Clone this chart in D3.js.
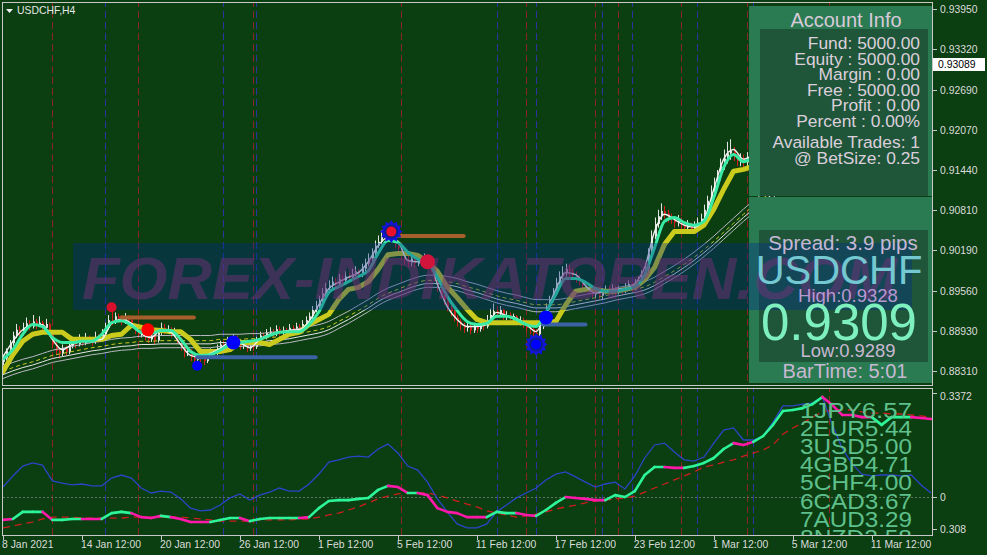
<!DOCTYPE html>
<html>
<head>
<meta charset="utf-8">
<script src="https://cdn.jsdelivr.net/npm/d3@7/dist/d3.min.js"></script>
<style>
html,body{margin:0;padding:0;background:#0b3e10;overflow:hidden;}
svg{display:block;}
text{font-family:"Liberation Sans",Arial,sans-serif;}
</style>
</head>
<body>
<svg id="chart" width="987" height="555"></svg>
<script>
// ---------------- DATA ----------------
const symbolTitle = "USDCHF,H4";
const timeTickBars = [0,24,48,72,96,120,144,168,192,216,240,264];
const timeTickLabels = ["8 Jan 2021","14 Jan 12:00","20 Jan 12:00","26 Jan 12:00","1 Feb 12:00","5 Feb 12:00","11 Feb 12:00","17 Feb 12:00","23 Feb 12:00","1 Mar 12:00","5 Mar 12:00","11 Mar 12:00"];
const priceTicks = [0.93950,0.93320,0.92690,0.92070,0.91440,0.90810,0.90190,0.89560,0.88930,0.88310];
const lastPrice = 0.93089;

// H4 candles (open of each bar = previous close)
const candleFirstOpen = 0.8845;
const candleClose = [
0.8850,0.8862,0.8874,0.8886,0.8895,0.8890,0.8898,0.8905,0.8900,0.8908,
0.8902,0.8906,0.8898,0.8904,0.8888,0.8872,0.8862,0.8858,0.8866,0.8860,
0.8870,0.8876,0.8872,0.8880,0.8874,0.8882,0.8878,0.8876,0.8884,0.8880,
0.8888,0.8898,0.8910,0.8908,0.8916,0.8912,0.8908,0.8914,0.8910,0.8902,
0.8894,0.8888,0.8890,0.8884,0.8880,0.8886,0.8878,0.8890,0.8898,0.8894,
0.8896,0.8888,0.8892,0.8880,0.8868,0.8860,0.8862,0.8852,0.8848,0.8854,
0.8850,0.8846,0.8856,0.8860,0.8858,0.8866,0.8872,0.8870,0.8878,0.8876,
0.8882,0.8874,0.8870,0.8872,0.8866,0.8870,0.8868,0.8878,0.8886,0.8884,
0.8890,0.8892,0.8888,0.8896,0.8890,0.8894,0.8892,0.8898,0.8894,0.8900,
0.8896,0.8904,0.8910,0.8916,0.8926,0.8932,0.8940,0.8952,0.8960,0.8964,
0.8970,0.8966,0.8974,0.8972,0.8978,0.8976,0.8982,0.8986,0.8980,0.8990,
0.8998,0.9006,0.9014,0.9026,0.9032,0.9040,0.9036,0.9044,0.9038,0.9028,
0.9022,0.9010,0.9004,0.9000,0.9006,0.8998,0.9004,0.9000,0.9008,0.9002,
0.8990,0.8976,0.8960,0.8950,0.8940,0.8930,0.8924,0.8914,0.8908,0.8902,
0.8898,0.8900,0.8894,0.8900,0.8896,0.8904,0.8900,0.8910,0.8918,0.8924,
0.8920,0.8926,0.8916,0.8918,0.8912,0.8916,0.8908,0.8910,0.8904,0.8898,
0.8896,0.8890,0.8888,0.8900,0.8916,0.8930,0.8942,0.8952,0.8968,0.8978,
0.8984,0.8990,0.8986,0.8980,0.8976,0.8970,0.8964,0.8960,0.8956,0.8950,
0.8952,0.8948,0.8954,0.8958,0.8956,0.8960,0.8954,0.8958,0.8956,0.8962,
0.8966,0.8960,0.8968,0.8972,0.8980,0.8990,0.9014,0.9040,0.9060,0.9072,
0.9080,0.9076,0.9070,0.9068,0.9062,0.9066,0.9058,0.9054,0.9058,0.9052,
0.9056,0.9062,0.9068,0.9082,0.9096,0.9110,0.9120,0.9134,0.9150,0.9162,
0.9170,0.9174,0.9166,0.9158,0.9162,0.9156,0.9164];
const candleHigh = [
0.8856,0.8866,0.8879,0.8892,0.8904,0.8901,0.8906,0.8914,0.8910,0.8918,
0.8912,0.8916,0.8909,0.8912,0.8906,0.8890,0.8876,0.8866,0.8872,0.8870,
0.8876,0.8884,0.8880,0.8888,0.8884,0.8890,0.8886,0.8884,0.8892,0.8888,
0.8896,0.8906,0.8918,0.8925,0.8922,0.8920,0.8918,0.8921,0.8918,0.8913,
0.8905,0.8898,0.8897,0.8894,0.8890,0.8892,0.8890,0.8896,0.8906,0.8904,
0.8902,0.8899,0.8898,0.8894,0.8883,0.8872,0.8868,0.8865,0.8856,0.8858,
0.8860,0.8855,0.8862,0.8866,0.8865,0.8872,0.8878,0.8878,0.8884,0.8883,
0.8888,0.8886,0.8878,0.8878,0.8876,0.8876,0.8874,0.8884,0.8892,0.8890,
0.8896,0.8899,0.8896,0.8902,0.8900,0.8900,0.8898,0.8904,0.8902,0.8906,
0.8904,0.8910,0.8916,0.8922,0.8932,0.8940,0.8948,0.8960,0.8968,0.8972,
0.8978,0.8976,0.8982,0.8980,0.8986,0.8984,0.8990,0.8994,0.8990,0.8998,
0.9006,0.9014,0.9022,0.9034,0.9042,0.9050,0.9048,0.9052,0.9048,0.9042,
0.9032,0.9026,0.9014,0.9010,0.9012,0.9010,0.9010,0.9010,0.9014,0.9012,
0.9006,0.8994,0.8980,0.8964,0.8954,0.8944,0.8936,0.8928,0.8918,0.8912,
0.8906,0.8906,0.8904,0.8906,0.8904,0.8910,0.8908,0.8918,0.8928,0.8936,
0.8932,0.8932,0.8928,0.8924,0.8922,0.8920,0.8918,0.8916,0.8914,0.8908,
0.8902,0.8900,0.8896,0.8904,0.8920,0.8936,0.8948,0.8960,0.8976,0.8986,
0.8994,0.8998,0.8996,0.8990,0.8986,0.8980,0.8974,0.8968,0.8966,0.8960,
0.8958,0.8958,0.8960,0.8964,0.8964,0.8966,0.8964,0.8964,0.8962,0.8968,
0.8972,0.8970,0.8974,0.8978,0.8988,0.8998,0.9022,0.9050,0.9070,0.9082,
0.9092,0.9088,0.9082,0.9076,0.9072,0.9074,0.9070,0.9064,0.9066,0.9062,
0.9064,0.9070,0.9076,0.9090,0.9104,0.9120,0.9132,0.9144,0.9162,0.9176,
0.9188,0.9192,0.9180,0.9172,0.9170,0.9168,0.9172];
const candleLow = [
0.8840,0.8847,0.8858,0.8870,0.8882,0.8884,0.8886,0.8895,0.8894,0.8897,
0.8896,0.8899,0.8893,0.8894,0.8884,0.8866,0.8855,0.8850,0.8854,0.8855,
0.8857,0.8866,0.8866,0.8869,0.8870,0.8871,0.8873,0.8870,0.8873,0.8875,
0.8877,0.8885,0.8895,0.8902,0.8904,0.8906,0.8902,0.8904,0.8904,0.8897,
0.8888,0.8882,0.8883,0.8878,0.8874,0.8876,0.8872,0.8875,0.8887,0.8888,
0.8889,0.8883,0.8884,0.8874,0.8862,0.8852,0.8854,0.8846,0.8838,0.8842,
0.8844,0.8840,0.8843,0.8852,0.8852,0.8855,0.8862,0.8864,0.8867,0.8871,
0.8872,0.8870,0.8864,0.8865,0.8860,0.8862,0.8862,0.8865,0.8875,0.8879,
0.8880,0.8886,0.8883,0.8885,0.8886,0.8887,0.8887,0.8889,0.8890,0.8891,
0.8892,0.8894,0.8901,0.8907,0.8912,0.8922,0.8928,0.8936,0.8948,0.8955,
0.8960,0.8960,0.8962,0.8966,0.8968,0.8970,0.8972,0.8978,0.8974,0.8977,
0.8986,0.8994,0.9002,0.9010,0.9022,0.9028,0.9030,0.9032,0.9032,0.9022,
0.9016,0.9004,0.8996,0.8992,0.8994,0.8992,0.8994,0.8994,0.8996,0.8996,
0.8984,0.8970,0.8954,0.8944,0.8934,0.8924,0.8916,0.8908,0.8900,0.8894,
0.8890,0.8892,0.8888,0.8890,0.8890,0.8892,0.8894,0.8897,0.8906,0.8914,
0.8914,0.8916,0.8910,0.8910,0.8906,0.8906,0.8902,0.8902,0.8898,0.8892,
0.8888,0.8882,0.8876,0.8884,0.8896,0.8912,0.8926,0.8938,0.8948,0.8962,
0.8972,0.8978,0.8978,0.8972,0.8968,0.8964,0.8958,0.8952,0.8950,0.8944,
0.8944,0.8942,0.8942,0.8950,0.8950,0.8950,0.8948,0.8950,0.8950,0.8952,
0.8958,0.8954,0.8956,0.8964,0.8968,0.8976,0.8986,0.9010,0.9036,0.9054,
0.9066,0.9068,0.9062,0.9060,0.9054,0.9056,0.9052,0.9048,0.9048,0.9046,
0.9046,0.9050,0.9056,0.9062,0.9076,0.9090,0.9104,0.9114,0.9128,0.9144,
0.9154,0.9160,0.9158,0.9150,0.9150,0.9148,0.9150];

// Indicator lines, one value every 3 bars
const lineSampleBars = 3;
const fastMA = [
0.8853,0.8877,0.8895,0.8903,0.8903,0.8880,0.8864,0.8872,0.8877,0.8878,
0.8880,0.8905,0.8911,0.8905,0.8889,0.8883,0.8894,0.8891,0.8872,0.8855,
0.8852,0.8858,0.8866,0.8875,0.8874,0.8867,0.8880,0.8888,0.8891,0.8894,
0.8895,0.8908,0.8934,0.8959,0.8969,0.8977,0.8984,0.9001,0.9026,0.9039,
0.9033,0.9003,0.9001,0.9005,0.8966,0.8931,0.8911,0.8900,0.8900,0.8903,
0.8922,0.8917,0.8913,0.8903,0.8892,0.8922,0.8958,0.8984,0.8981,0.8964,
0.8952,0.8955,0.8958,0.8959,0.8967,0.8992,0.9048,0.9075,0.9067,0.9058,
0.9055,0.9067,0.9114,0.9161,0.9176,0.9161,0.9168,0.9180,0.9195,0.9208,
0.9220,0.9230,0.9245,0.9252,0.9262,0.9255,0.9265,0.9270,0.9276,0.9278,
0.9282,0.9284,0.9286,0.9288,0.9290];
const signalMA = [
0.8849,0.8864,0.8888,0.8903,0.8900,0.8883,0.8875,0.8875,0.8877,0.8877,
0.8888,0.8906,0.8909,0.8902,0.8891,0.8889,0.8894,0.8894,0.8880,0.8861,
0.8855,0.8856,0.8863,0.8872,0.8875,0.8877,0.8880,0.8886,0.8891,0.8892,
0.8892,0.8903,0.8923,0.8953,0.8962,0.8970,0.8978,0.8987,0.9014,0.9034,
0.9031,0.9016,0.9005,0.9000,0.8977,0.8947,0.8925,0.8908,0.8903,0.8905,
0.8916,0.8916,0.8911,0.8903,0.8900,0.8922,0.8950,0.8975,0.8975,0.8969,
0.8959,0.8955,0.8955,0.8958,0.8962,0.8981,0.9023,0.9064,0.9070,0.9062,
0.9058,0.9064,0.9101,0.9148,0.9168,0.9157,0.9164,0.9172,0.9185,0.9198,
0.9210,0.9220,0.9232,0.9245,0.9255,0.9262,0.9258,0.9262,0.9268,0.9272,
0.9275,0.9278,0.9280,0.9282,0.9284];
const slowMA = [
0.8830,0.8856,0.8877,0.8888,0.8891,0.8891,0.8891,0.8880,0.8880,0.8880,
0.8880,0.8886,0.8888,0.8902,0.8899,0.8895,0.8894,0.8892,0.8892,0.8880,
0.8861,0.8861,0.8861,0.8864,0.8875,0.8875,0.8875,0.8872,0.8880,0.8888,
0.8891,0.8903,0.8911,0.8919,0.8942,0.8958,0.8961,0.8970,0.8989,0.9012,
0.9014,0.9014,0.9011,0.9001,0.8986,0.8962,0.8945,0.8927,0.8911,0.8906,
0.8906,0.8906,0.8906,0.8906,0.8906,0.8906,0.8908,0.8934,0.8955,0.8958,
0.8958,0.8955,0.8955,0.8958,0.8961,0.8973,0.8992,0.9028,0.9048,0.9048,
0.9048,0.9058,0.9083,0.9114,0.9142,0.9145,0.9150,0.9155,0.9165,0.9180,
0.9195,0.9205,0.9220,0.9230,0.9240,0.9245,0.9250,0.9255,0.9260,0.9265,
0.9270,0.9275,0.9278,0.9282,0.9286];
const channelMid = [
0.8830,0.8836,0.8841,0.8845,0.8850,0.8855,0.8858,0.8861,0.8864,0.8867,
0.8869,0.8872,0.8874,0.8875,0.8877,0.8877,0.8878,0.8878,0.8878,0.8878,
0.8878,0.8878,0.8880,0.8880,0.8880,0.8881,0.8881,0.8883,0.8884,0.8886,
0.8889,0.8892,0.8895,0.8900,0.8908,0.8916,0.8925,0.8934,0.8944,0.8952,
0.8958,0.8964,0.8969,0.8972,0.8972,0.8970,0.8967,0.8962,0.8958,0.8953,
0.8948,0.8944,0.8941,0.8937,0.8934,0.8934,0.8934,0.8936,0.8939,0.8942,
0.8945,0.8948,0.8952,0.8955,0.8958,0.8962,0.8969,0.8978,0.8987,0.8997,
0.9008,0.9020,0.9033,0.9047,0.9061,0.9075,0.9088,0.9100,0.9112,0.9125,
0.9138,0.9150,0.9162,0.9172,0.9182,0.9192,0.9200,0.9208,0.9215,0.9222,
0.9228,0.9234,0.9240,0.9245,0.9250];
const channelOffsets = [0.0008, 0, -0.0005, -0.0011];

// trade signals
const signalBars   = [33, 44, 59, 70, 118, 129, 162, 165];
const signalPrices = [0.8930, 0.8895, 0.8839, 0.8875, 0.9048, 0.9001, 0.8872, 0.8914];
const signalKinds  = ["sellSmall","sell","buySmall","buy","sellStar","sellDeep","buyStar","buy"];
// support / resistance segments
const levelStartBars = [36, 59, 119, 164];
const levelEndBars   = [58, 95, 140, 177];
const levelPrices    = [0.8914, 0.8852, 0.9041, 0.8903];
const levelKinds     = ["resist","support","resist","support"];
// event markers
const redEventBars  = [15, 41, 76, 121, 159, 180, 187, 206, 226, 251];
const blueEventBars = [31, 67, 77, 150, 162, 182, 191, 211, 228];

// lower indicator (every 3 bars)
const strengthBlue = [
0.032,0.068,0.100,0.110,0.103,0.052,0.045,0.039,0.042,0.036,
0.036,0.061,0.071,0.061,0.029,0.013,0.019,0.016,-0.006,-0.036,
-0.045,-0.042,-0.026,-0.003,0.010,-0.010,0.006,0.016,0.029,0.019,
0.019,0.042,0.074,0.113,0.120,0.129,0.132,0.129,0.155,0.171,
0.142,0.100,0.087,0.048,-0.006,-0.048,-0.087,-0.100,-0.100,-0.087,
-0.048,-0.026,-0.003,0.013,0.029,0.055,0.074,0.081,0.065,0.048,
0.032,0.042,0.048,0.026,0.068,0.126,0.168,0.174,0.145,0.120,
0.116,0.129,0.174,0.216,0.223,0.184,0.184,0.197,0.242,0.294,
0.294,0.300,0.304,0.323,0.233,0.158,0.107,0.074,0.068,0.071,
0.071,0.068,0.071,0.039,0.013];
const strengthMain = [
-0.074,-0.071,-0.048,-0.048,-0.048,-0.074,-0.074,-0.071,-0.071,-0.071,
-0.071,-0.052,-0.048,-0.052,-0.065,-0.068,-0.061,-0.065,-0.071,-0.081,
-0.081,-0.081,-0.074,-0.068,-0.068,-0.078,-0.071,-0.068,-0.068,-0.068,
-0.068,-0.065,-0.036,-0.013,-0.010,-0.010,-0.006,-0.003,0.023,0.036,
0.032,0.013,0.013,0.006,-0.036,-0.048,-0.052,-0.065,-0.065,-0.065,
-0.048,-0.052,-0.052,-0.058,-0.061,-0.042,-0.019,0.000,-0.003,-0.006,
-0.010,-0.010,0.006,0.000,0.019,0.071,0.097,0.097,0.094,0.094,
0.100,0.110,0.126,0.155,0.174,0.168,0.178,0.197,0.233,0.278,
0.281,0.287,0.300,0.323,0.297,0.265,0.265,0.258,0.258,0.233,
0.258,0.258,0.258,0.255,0.252];
const strengthUp = [
0,1,1,1,0,1,1,1,0,0,
1,1,1,0,0,0,1,0,0,0,
0,1,1,1,0,1,1,1,1,1,
0,1,1,1,1,1,1,1,1,0,
0,1,0,0,0,0,0,0,0,1,
1,1,0,0,1,1,1,0,0,0,
0,1,1,1,1,1,1,0,0,1,
1,1,1,1,0,0,1,1,1,1,
1,1,1,0,0,0,0,0,1,1,
1,1,0,0,0];
const strengthSignal = [
-0.100,-0.094,-0.087,-0.081,-0.071,-0.065,-0.065,-0.065,-0.068,-0.068,
-0.068,-0.068,-0.068,-0.065,-0.065,-0.065,-0.065,-0.065,-0.065,-0.068,
-0.071,-0.074,-0.078,-0.078,-0.078,-0.078,-0.074,-0.074,-0.074,-0.074,
-0.071,-0.071,-0.065,-0.058,-0.052,-0.042,-0.032,-0.019,-0.006,0.003,
0.010,0.013,0.013,0.013,0.006,-0.003,-0.013,-0.023,-0.032,-0.045,
-0.052,-0.058,-0.065,-0.061,-0.055,-0.048,-0.039,-0.032,-0.026,-0.019,
-0.013,-0.010,-0.006,-0.003,0.003,0.016,0.029,0.042,0.055,0.068,
0.081,0.097,0.103,0.113,0.120,0.132,0.142,0.152,0.168,0.203,
0.223,0.239,0.258,0.275,0.281,0.281,0.281,0.275,0.271,0.271,
0.268,0.268,0.265,0.262,0.258];
const indTickValues = [0.3372, 0, -0.1034];
const indTickLabels = ["0.3372", "0", "0.308"];
const currencyRanks = ["1JPY6.57","2EUR5.44","3USD5.00","4GBP4.71","5CHF4.00","6CAD3.67","7AUD3.29","8NZD2.58"];

// info panels
const accountTitle = "Account Info";
const accountLines = ["Fund: 5000.00","Equity : 5000.00","Margin : 0.00","Free : 5000.00","Profit : 0.00","Percent : 0.00%","Available Trades: 1","@ BetSize: 0.25"];
const spreadText = "Spread: 3.9 pips";
const pairText = "USDCHF";
const highText = "High:0.9328";
const bidText = "0.9309";
const lowText = "Low:0.9289";
const barTimeText = "BarTime: 5:01";
const watermarkText = "FOREX-INDIKATOREN.COM";

// ---------------- DRAWING ----------------
const BG = "#0b3e10";
const svg = d3.select("#chart");
const x = d3.scaleLinear().domain([0, 282]).range([3, 931]);
const y = d3.scaleLinear().domain([0.88310, 0.93950]).range([370.8, 9]);
const yi = d3.scaleLinear().domain([-0.1163, 0.3488]).range([533, 389]);
const px = v => Math.round(x(v)) + 0.5;

svg.append("rect").attr("width", 987).attr("height", 555).attr("fill", BG);
const defs = svg.append("defs");
defs.append("clipPath").attr("id", "clipMain").append("rect").attr("x", 3).attr("y", 3).attr("width", 929).attr("height", 382);
defs.append("clipPath").attr("id", "clipInd").append("rect").attr("x", 3).attr("y", 389).attr("width", 929).attr("height", 146);
const gMain = svg.append("g").attr("clip-path", "url(#clipMain)");
const gInd = svg.append("g").attr("clip-path", "url(#clipInd)");

// vertical event lines
[[redEventBars, "#8c2323"], [blueEventBars, "#2a33a0"]].forEach(([bars, col]) => {
  [gMain, gInd].forEach(g => {
    g.append("g").selectAll("line").data(bars).join("line")
      .attr("x1", d => px(d)).attr("x2", d => px(d))
      .attr("y1", 0).attr("y2", 555)
      .attr("stroke", col).attr("stroke-width", 1).attr("stroke-dasharray", "7,4");
  });
});

// candles
const candles = candleClose.map((c, i) => ({ i, c, o: i === 0 ? candleFirstOpen : candleClose[i - 1], h: candleHigh[i], l: candleLow[i] }));
const candleColor = d => d.c >= d.o ? "#e4e4e4" : "#d41c1c";
const gc = gMain.append("g");
gc.selectAll("line").data(candles).join("line")
  .attr("x1", d => px(d.i)).attr("x2", d => px(d.i))
  .attr("y1", d => y(d.h)).attr("y2", d => y(d.l))
  .attr("stroke", candleColor).attr("stroke-width", 1);
gc.selectAll("rect").data(candles).join("rect")
  .attr("x", d => Math.round(x(d.i))).attr("width", 2)
  .attr("y", d => y(Math.max(d.o, d.c)))
  .attr("height", d => Math.max(1, Math.abs(y(d.o) - y(d.c))))
  .attr("fill", candleColor);

const mainLine = (curve) => d3.line().x((d, k) => x(k * lineSampleBars)).y(d => y(d)).curve(curve || d3.curveLinear);

// channel
const channelStyles = [
  { c: "#b9b9c4", dash: null },
  { c: "#c9c926", dash: "4,3" },
  { c: "#e6e6e6", dash: null },
  { c: "#b9b9c4", dash: null }
];
channelOffsets.forEach((off, j) => {
  gMain.append("path").datum(channelMid.map(v => v + off))
    .attr("d", mainLine(d3.curveMonotoneX)).attr("fill", "none")
    .attr("stroke", channelStyles[j].c).attr("stroke-width", 1)
    .attr("stroke-dasharray", channelStyles[j].dash);
});
// slow yellow
gMain.append("path").datum(slowMA).attr("d", mainLine())
  .attr("fill", "none").attr("stroke", "#cbcb1e").attr("stroke-width", 5)
  .attr("stroke-linejoin", "round").attr("stroke-linecap", "round");
// fast white
gMain.append("path").datum(fastMA).attr("d", mainLine(d3.curveMonotoneX))
  .attr("fill", "none").attr("stroke", "#f4f4f4").attr("stroke-width", 1.4);
// aqua
gMain.append("path").datum(signalMA).attr("d", mainLine(d3.curveMonotoneX))
  .attr("fill", "none").attr("stroke", "#38eaa4").attr("stroke-width", 3)
  .attr("stroke-linejoin", "round");

// level segments
const levels = levelStartBars.map((s, j) => ({ s, e: levelEndBars[j], p: levelPrices[j], k: levelKinds[j] }));
gMain.append("g").selectAll("line").data(levels).join("line")
  .attr("x1", d => x(d.s)).attr("x2", d => x(d.e))
  .attr("y1", d => y(d.p)).attr("y2", d => y(d.p))
  .attr("stroke", d => d.k === "resist" ? "#a65e2c" : "#3a62a4")
  .attr("stroke-width", 4).attr("stroke-linecap", "round");

// ---------- lower indicator ----------
const indLine = d3.line().x((d, k) => x(k * lineSampleBars)).y(d => yi(d));
gInd.append("line").attr("x1", 3).attr("x2", 932).attr("y1", Math.round(yi(0)) + 0.5).attr("y2", Math.round(yi(0)) + 0.5)
  .attr("stroke", "#607466").attr("stroke-dasharray", "2,2");
gInd.append("path").datum(strengthSignal).attr("d", indLine).attr("fill", "none")
  .attr("stroke", "#cc1e1e").attr("stroke-width", 1.3).attr("stroke-dasharray", "7,5");
gInd.append("path").datum(strengthBlue).attr("d", indLine).attr("fill", "none")
  .attr("stroke", "#2a46c8").attr("stroke-width", 1.3);
const segs = d3.range(strengthMain.length - 1).map(k => ({ k, a: strengthMain[k], b: strengthMain[k + 1], up: strengthUp[k] }));
gInd.append("g").selectAll("line").data(segs).join("line")
  .attr("x1", d => x(d.k * lineSampleBars)).attr("x2", d => x((d.k + 1) * lineSampleBars))
  .attr("y1", d => yi(d.a)).attr("y2", d => yi(d.b))
  .attr("stroke", d => d.up ? "#2df59a" : "#ff18aa").attr("stroke-width", 2.6)
  .attr("stroke-linecap", "round");
gInd.append("g").selectAll("text").data(currencyRanks).join("text")
  .attr("x", 800).attr("y", (d, j) => 418 + j * 18.1)
  .attr("font-size", 22).attr("textLength", 112).attr("lengthAdjust", "spacingAndGlyphs")
  .attr("fill", "#5ec08c").text(d => d);

// ---------- info panels ----------
svg.append("rect").attr("x", 749).attr("y", 6).attr("width", 183).attr("height", 190).attr("fill", "#2a7a52");
svg.append("rect").attr("x", 760).attr("y", 29).attr("width", 168).attr("height", 167).attr("fill", "#1f563a");
svg.append("rect").attr("x", 749).attr("y", 197).attr("width", 183).attr("height", 186).attr("fill", "#2a7a52");
svg.append("rect").attr("x", 759).attr("y", 230).attr("width", 169).attr("height", 132).attr("fill", "#1f563a");

// watermark
svg.append("rect").attr("x", 73).attr("y", 243).attr("width", 839).attr("height", 67).attr("fill", "rgba(0,45,140,0.36)");
svg.append("text").attr("x", 82).attr("y", 299).attr("font-size", 60).attr("font-weight", "bold").attr("font-style", "italic")
  .attr("textLength", 815).attr("lengthAdjust", "spacingAndGlyphs")
  .attr("fill", "rgba(122,48,122,0.48)").text(watermarkText);

// signals (drawn above the watermark band)
function starPath(cx, cy, n, ro, ri) {
  const pts = [];
  for (let j = 0; j < 2 * n; j++) {
    const a = Math.PI * j / n - Math.PI / 2;
    const r = j % 2 ? ri : ro;
    pts.push([cx + r * Math.cos(a), cy + r * Math.sin(a)]);
  }
  return "M" + pts.map(p => p.join(",")).join("L") + "Z";
}
const sigStyle = {
  sellSmall: { r: 5, c: "#d8102c" },
  sell: { r: 6.5, c: "#ff0000" },
  buySmall: { r: 5, c: "#0000ff" },
  buy: { r: 7, c: "#0000ff" },
  sellStar: { r: 5, c: "#e8102a", star: true },
  sellDeep: { r: 7.5, c: "#d0143c" },
  buyStar: { r: 5, c: "#0000ff", star: true }
};
const gs = svg.append("g").attr("clip-path", "url(#clipMain)");
signalBars.forEach((b, j) => {
  const st = sigStyle[signalKinds[j]];
  const cx = x(b), cy = y(signalPrices[j]);
  if (st.star) {
    gs.append("path").attr("d", starPath(cx, cy, 12, 11.5, 8.5)).attr("fill", "#1414dc");
    gs.append("circle").attr("cx", cx).attr("cy", cy).attr("r", 7).attr("fill", "#0a1f8a");
  }
  gs.append("circle").attr("cx", cx).attr("cy", cy).attr("r", st.r).attr("fill", st.c);
});

// panel texts
svg.append("text").attr("x", 846).attr("y", 27).attr("text-anchor", "middle").attr("font-size", 20).attr("fill", "#d8cad8").text(accountTitle);
const accY = [49, 65, 80, 96, 111, 127, 148, 164];
svg.append("g").selectAll("text").data(accountLines).join("text")
  .attr("x", 920).attr("y", (d, j) => accY[j]).attr("text-anchor", "end")
  .attr("font-size", 17.4).attr("fill", "#dccfdc").text(d => d);
const ptxt = (t, cx, by, fs, col) => svg.append("text").attr("x", cx).attr("y", by).attr("text-anchor", "middle").attr("font-size", fs).attr("fill", col).text(t);
ptxt(spreadText, 843, 250, 20.5, "#c6b8d6");
ptxt(pairText, 839, 284, 40, "#74c8d2");
ptxt(highText, 848, 302, 18.5, "#b898d2");
ptxt(bidText, 839, 340, 51, "#7ef0be");
ptxt(lowText, 848, 357, 18.4, "#c8b8d2");
ptxt(barTimeText, 845, 378, 20, "#c8b8d2");

// ---------- frames & axes ----------
svg.append("rect").attr("x", 2.5).attr("y", 2.5).attr("width", 930).attr("height", 383).attr("fill", "none").attr("stroke", "#c8c8c8");
svg.append("rect").attr("x", 2.5).attr("y", 388.5).attr("width", 930).attr("height", 147).attr("fill", "none").attr("stroke", "#c8c8c8");

const axFont = 10.4, axCol = "#dcdcdc";
const gpa = svg.append("g");
gpa.selectAll("line").data(priceTicks).join("line")
  .attr("x1", 933).attr("x2", 937).attr("y1", d => Math.round(y(d)) + 0.5).attr("y2", d => Math.round(y(d)) + 0.5).attr("stroke", "#c8c8c8");
gpa.selectAll("text").data(priceTicks).join("text")
  .attr("x", 940).attr("y", d => y(d) + 4).attr("font-size", axFont).attr("fill", axCol).text(d => d3.format(".5f")(d));
svg.append("rect").attr("x", 933).attr("y", Math.round(y(lastPrice)) - 6).attr("width", 52).attr("height", 13).attr("fill", "#ffffff");
svg.append("text").attr("x", 938).attr("y", Math.round(y(lastPrice)) + 4).attr("font-size", axFont).attr("fill", "#000").text(d3.format(".5f")(lastPrice));

const gia = svg.append("g");
gia.selectAll("line").data(indTickValues).join("line")
  .attr("x1", 933).attr("x2", 937).attr("y1", d => Math.round(yi(d)) + 0.5).attr("y2", d => Math.round(yi(d)) + 0.5).attr("stroke", "#c8c8c8");
gia.selectAll("text").data(indTickValues).join("text")
  .attr("x", 940).attr("y", d => Math.min(533, Math.max(400, yi(d) + 4)))
  .attr("font-size", axFont).attr("fill", axCol).text((d, j) => indTickLabels[j]);

const gta = svg.append("g");
gta.selectAll("line").data(timeTickBars).join("line")
  .attr("x1", d => px(d)).attr("x2", d => px(d)).attr("y1", 536).attr("y2", 540).attr("stroke", "#c8c8c8");
gta.selectAll("text").data(timeTickBars).join("text")
  .attr("x", d => x(d) - 1).attr("y", 548).attr("font-size", axFont).attr("fill", axCol)
  .text((d, j) => timeTickLabels[j]);

// title
svg.append("path").attr("d", "M6,9L13,9L9.5,13Z").attr("fill", "#f0f0f0");
svg.append("text").attr("x", 17).attr("y", 14).attr("font-size", axFont).attr("fill", "#e6e6e6").text(symbolTitle);
</script>
</body>
</html>
